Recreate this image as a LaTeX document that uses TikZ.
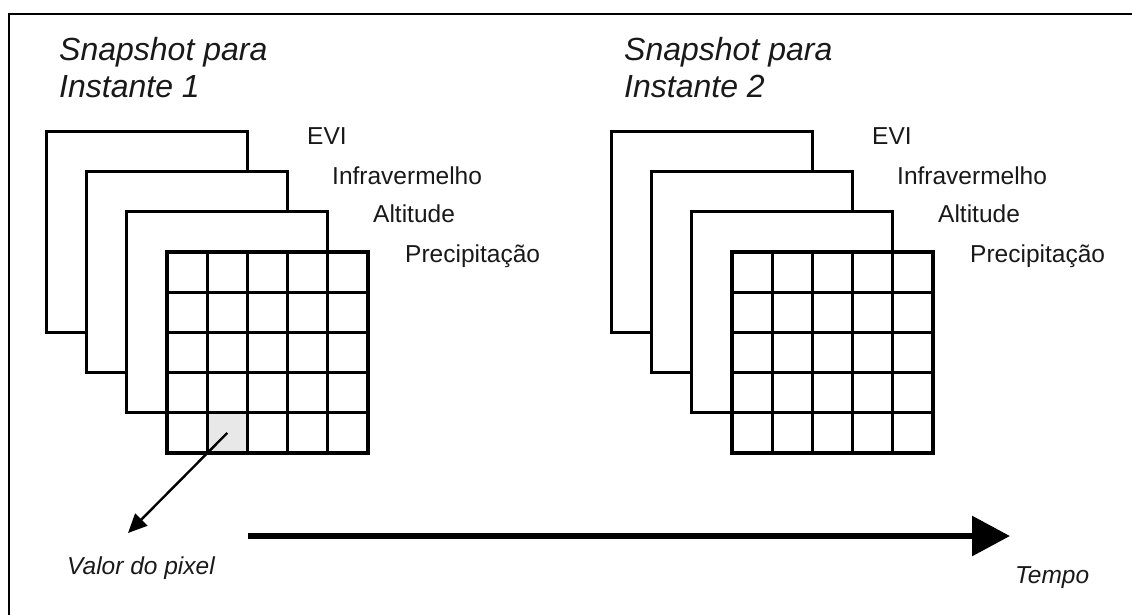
\documentclass[tikz,border=0pt]{standalone}
\usepackage{fontspec}
\setmainfont{Liberation Sans}
\usetikzlibrary{arrows.meta}
\begin{document}
\begin{tikzpicture}[x=1pt,y=-1pt,
  layer/.style={draw=black, fill=white, line width=3.2pt, minimum width=201pt, minimum height=201pt, anchor=north west, inner sep=0pt, outer sep=0pt},
  celltop/.style={fill=gray!18, draw=none, minimum width=40.2pt, minimum height=40.2pt, anchor=north west, inner sep=0pt, outer sep=0pt},
  titletext/.style={font=\fontsize{32}{37}\selectfont\itshape, anchor=base west, inner sep=0pt, text=black!90},
  lbl/.style={font=\fontsize{24.5}{28}\selectfont, anchor=base west, inner sep=0pt, text=black!90},
  ilbl/.style={font=\fontsize{24.5}{28}\selectfont\itshape, anchor=base west, inner sep=0pt, text=black!90},
  gridline/.style={line width=3.2pt, line cap=rect},
  frameline/.style={line width=2pt}]
\useasboundingbox (0,0) rectangle (1132,614);
\draw[frameline] (9,620) -- (9,14) -- (1140,14);

\foreach \g/\dx/\n in {a/0/1, b/565/2}{
  \begin{scope}[xshift=\dx pt]
    \node[titletext] (t1\g) at (59,60) {Snapshot para};
    \node[titletext] (t2\g) at (59,97) {Instante \n};
    \node[layer] (L1\g) at (46.4,131.4) {};
    \node[layer] (L2\g) at (86.6,171.6) {};
    \node[layer] (L3\g) at (126.8,211.8) {};
    \node[layer, draw=none] (L4\g) at (167,252) {};
    \node[lbl] (evi\g) at (307,144) {EVI};
    \node[lbl] (inf\g) at (332,184) {Infravermelho};
    \node[lbl] (alt\g) at (373,222) {Altitude};
    \node[lbl] (pre\g) at (405,262) {Precipitação};
  \end{scope}
}
% highlighted pixel
\node[celltop] (pix) at (207.2,412.8) {};
\foreach \dx in {0,565}{
  \begin{scope}[xshift=\dx pt]
    \foreach \i in {0,...,5}{
      \draw[gridline] (167+40.2*\i,252) -- (167+40.2*\i,453);
      \draw[gridline] (167,252+40.2*\i) -- (368,252+40.2*\i);
    }
  \end{scope}
}
\coordinate (ptip) at (128,533);
\node[ilbl] (valor) at (67,574) {Valor do pixel};
\draw[line width=2.4pt, -{Triangle[length=19pt,width=17pt]}] (pix.center) -- (ptip);

\coordinate (ts) at (248,536);
\coordinate (te) at (1010,536);
\draw[line width=6pt, -{Triangle[length=38pt,width=39pt]}] (ts) -- (te);
\node[ilbl] (tempo) at (1015,583) {Tempo};
\end{tikzpicture}
\end{document}
